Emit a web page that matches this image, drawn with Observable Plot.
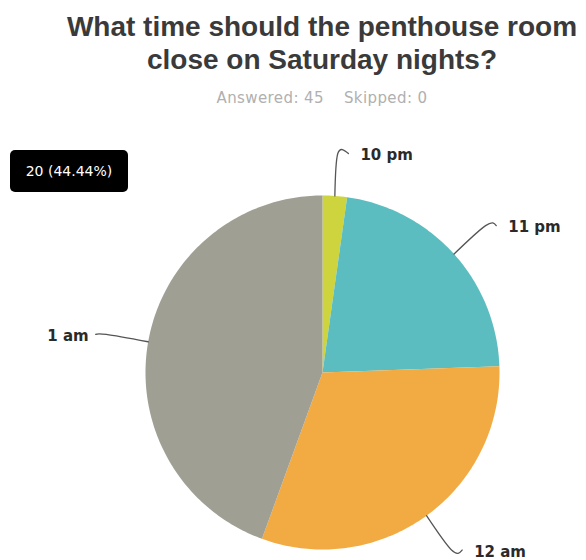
<!DOCTYPE html>
<html>
<head>
<meta charset="utf-8">
<script src="https://cdn.jsdelivr.net/npm/d3@7"></script>
<script src="https://cdn.jsdelivr.net/npm/@observablehq/plot@0.6"></script>
<style>
  html, body { margin: 0; padding: 0; background: #fff; width: 586px; height: 560px; overflow: hidden; position: relative; }
  #title { position: absolute; left: 0; top: 10px; width: 644px; text-align: center; font-family: "Liberation Sans", Arial, sans-serif; font-weight: bold; font-size: 28px; line-height: 33px; color: #3a3a3a; }
  #subtitle { position: absolute; left: 0; top: 89px; width: 644px; text-align: center; font-family: "DejaVu Sans", sans-serif; font-size: 15px; letter-spacing: 0.4px; color: #b0b0b0; }
  #subtitle span { margin: 0 10px; }
  #tip { position: absolute; z-index: 5; left: 10px; top: 150px; width: 118px; height: 42px; background: #000; border-radius: 5px; color: #fff; font-family: "DejaVu Sans", sans-serif; font-size: 14px; line-height: 42px; text-align: center; }
  #chart { position: absolute; z-index: 1; left: 0; top: 120px; }
</style>
</head>
<body>
<div id="title">What time should the penthouse room<br>close on Saturday nights?</div>
<div id="subtitle"></div>
<div id="tip"></div>
<div id="chart"></div>
<script>
// ---- data ----
const categories = ["10 pm", "11 pm", "12 am", "1 am"];
const counts = [1, 10, 14, 20];
const colors = ["#cdd43d", "#5bbdbf", "#f2ab43", "#a09f93"];
const skipped = 0;
const highlighted = "1 am";

// ---- layout ----
const W = 586, H = 440, cx = 322, cy = 252, R = 177;

const total = d3.sum(counts);
document.getElementById("subtitle").innerHTML =
  `<span>Answered: ${total}</span><span>Skipped: ${skipped}</span>`;
const hi = categories.indexOf(highlighted);
document.getElementById("tip").textContent =
  `${counts[hi]} (${(counts[hi] / total * 100).toFixed(2)}%)`;

const arcs = d3.pie().sort(null).startAngle(0).endAngle(2 * Math.PI)(counts);

// slice polygons in unit-radius coordinates (angle measured clockwise from top)
const slicePts = [];
arcs.forEach((a, i) => {
  const cat = categories[i];
  slicePts.push({cat, x: 0, y: 0});
  const n = Math.max(2, Math.ceil((a.endAngle - a.startAngle) / (Math.PI / 180)));
  for (let k = 0; k <= n; k++) {
    const t = a.startAngle + (a.endAngle - a.startAngle) * k / n;
    slicePts.push({cat, x: Math.sin(t), y: Math.cos(t)});
  }
  slicePts.push({cat, x: 0, y: 0});
});

// leader lines and labels
const leaderPts = [];
const labels = [];
arcs.forEach((a, i) => {
  const cat = categories[i];
  const m = (a.startAngle + a.endAngle) / 2;
  const right = Math.sin(m) >= 0;
  leaderPts.push({cat, x: Math.sin(m), y: Math.cos(m)});
  const bx = 1.24 * Math.sin(m), by = 1.24 * Math.cos(m);
  leaderPts.push({cat, x: bx, y: by});
  const ex = bx + (right ? 0.06 : -0.06);
  leaderPts.push({cat, x: ex, y: by});
  labels.push({cat, x: ex, y: by, right});
});

const chart = Plot.plot({
  width: W,
  height: H,
  margin: 0,
  x: {domain: [-cx / R, (W - cx) / R], range: [0, W], axis: null},
  y: {domain: [-(H - cy) / R, cy / R], range: [H, 0], axis: null},
  color: {domain: categories, range: colors},
  style: {background: "transparent"},
  marks: [
    Plot.line(slicePts, {x: "x", y: "y", z: "cat", fill: "cat", stroke: "none", curve: "linear"}),
    Plot.line(leaderPts, {x: "x", y: "y", z: "cat", stroke: "#555", strokeWidth: 1.3, curve: "natural"}),
    Plot.text(labels.filter(d => d.right), {x: "x", y: "y", text: "cat", textAnchor: "start", dx: 12, dy: 2, fill: "#2a2a2a", fontSize: 15, fontWeight: "bold", fontFamily: "DejaVu Sans"}),
    Plot.text(labels.filter(d => !d.right), {x: "x", y: "y", text: "cat", textAnchor: "end", dx: -7, dy: 2, fill: "#2a2a2a", fontSize: 15, fontWeight: "bold", fontFamily: "DejaVu Sans"})
  ]
});
document.getElementById("chart").appendChild(chart);
</script>
</body>
</html>
